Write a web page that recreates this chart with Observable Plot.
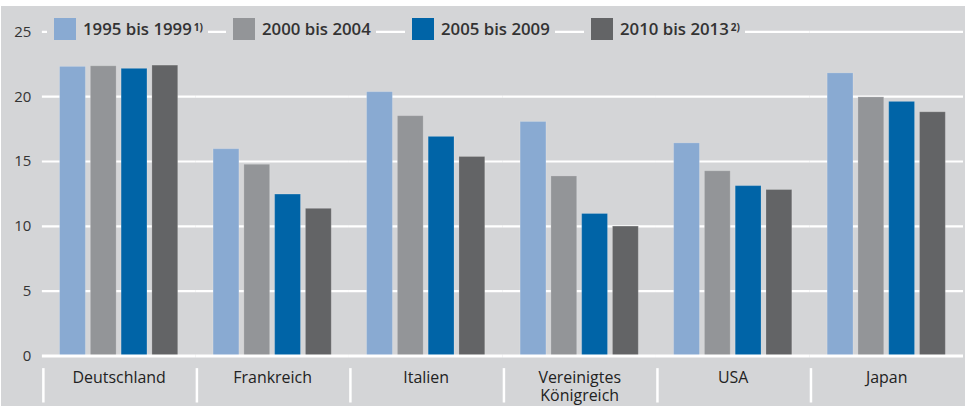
<!DOCTYPE html>
<html>
<head>
<meta charset="utf-8">
<script src="https://cdn.jsdelivr.net/npm/d3@7"></script>
<script src="https://cdn.jsdelivr.net/npm/@observablehq/plot@0.6"></script>
<style>
  html, body { margin: 0; padding: 0; background: #ffffff; overflow: hidden; }
  #wrap { position: relative; width: 965px; height: 406px; overflow: hidden; background: #ffffff; }
  #chart { position: absolute; left: 1px; top: 6px; width: 964px; height: 400px; overflow: hidden; background: #d4d5d7; }
  #legend { position: absolute; left: 0; top: 0; width: 965px; height: 60px; pointer-events: none; }
  .item { position: absolute; top: 17px; height: 23px; display: flex; align-items: center; background: #d4d5d7;
          padding: 0 5px 0 7px; font-family: "Open Sans", "Noto Sans", sans-serif; font-size: 16.8px; font-weight: 600; color: #333; white-space: nowrap; }
  .sw { width: 22px; height: 22px; margin-right: 7px; }
  .item sup { font-size: 10px; font-weight: 700; position: relative; top: -2px; margin-left: 2px; }
</style>
</head>
<body>
<div id="wrap">
  <div id="chart"></div>
  <div id="legend"></div>
</div>
<script>
// ---- data ----
const countries = ["Deutschland", "Frankreich", "Italien", "Vereinigtes Königreich", "USA", "Japan"];
const countryLabels = ["Deutschland", "Frankreich", "Italien", "Vereinigtes\nKönigreich", "USA", "Japan"];
const periods = ["1995 bis 1999", "2000 bis 2004", "2005 bis 2009", "2010 bis 2013"];
const periodNotes = ["1)", "", "", "2)"];
const v1995_1999 = [22.3, 15.95, 20.35, 18.05, 16.4, 21.8];
const v2000_2004 = [22.35, 14.75, 18.5, 13.85, 14.25, 19.95];
const v2005_2009 = [22.15, 12.45, 16.9, 10.95, 13.1, 19.6];
const v2010_2013 = [22.4, 11.35, 15.35, 9.98, 12.8, 18.8];
const yTicks = [0, 5, 10, 15, 20, 25];
const colors = ["#89aad2", "#939598", "#0064a7", "#636466"];

const series = [v1995_1999, v2000_2004, v2005_2009, v2010_2013];
const rows = countries.flatMap((c, i) => periods.map((p, j) => ({country: c, period: p, value: series[j][i]})));
const labelOf = new Map(countries.map((c, i) => [c, countryLabels[i]]));

const FONT = '"Open Sans", "Noto Sans", sans-serif';

const chart = Plot.plot({
  width: 967,
  height: 400,
  marginLeft: 39,
  marginRight: 0,
  marginTop: 25.5,
  marginBottom: 49.5,
  style: {background: "transparent", fontFamily: FONT, color: "#333", overflow: "visible"},
  fx: {domain: countries, padding: 0, axis: null, label: null},
  x: {domain: periods, paddingInner: 5 / 31, paddingOuter: 0.574, round: false, axis: null},
  y: {domain: [0, 25], axis: null},
  color: {domain: periods, range: colors},
  marks: [
    Plot.gridY(yTicks.filter(t => t > 0), {stroke: "white", strokeOpacity: 1, strokeWidth: 2.2}),
    Plot.axisY(yTicks, {tickSize: 0, tickPadding: 11, label: null, fontSize: 15, fill: "#333"}),
    Plot.barY(rows, {fx: "country", x: "period", y: "value", fill: "period", stroke: "white", strokeOpacity: 0.18, strokeWidth: 1}),
    Plot.ruleY([0], {stroke: "white", strokeWidth: 3}),
    Plot.axisFx({anchor: "bottom", tickSize: 0, tickPadding: 13.5, label: null, fontSize: 16, fill: "#222", lineHeight: 1.16, tickFormat: c => labelOf.get(c)}),
    Plot.frame({anchor: "left", stroke: "white", strokeWidth: 2.5, insetLeft: 1, insetTop: 338.5, insetBottom: -45.5})
  ]
});
document.getElementById("chart").appendChild(chart);

// ---- legend ----
const legendLefts = [47, 226, 405, 584];
const legend = document.getElementById("legend");
periods.forEach((p, i) => {
  const it = document.createElement("div");
  it.className = "item";
  it.style.left = legendLefts[i] + "px";
  const sw = document.createElement("span");
  sw.className = "sw";
  sw.style.background = colors[i];
  it.appendChild(sw);
  const t = document.createElement("span");
  t.textContent = p;
  it.appendChild(t);
  if (periodNotes[i]) {
    const s = document.createElement("sup");
    s.textContent = periodNotes[i];
    it.appendChild(s);
  }
  legend.appendChild(it);
});
</script>
</body>
</html>
